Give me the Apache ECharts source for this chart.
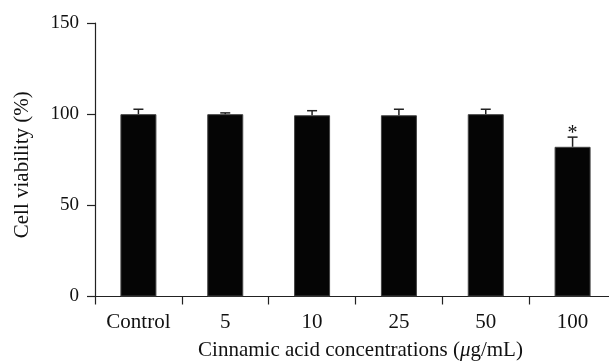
<!DOCTYPE html>
<html>
<head>
<meta charset="utf-8">
<script src="https://cdn.jsdelivr.net/npm/echarts@6/dist/echarts.min.js"></script>
<style>html,body{margin:0;padding:0;background:#fff;overflow:hidden}#c{width:620px;height:362px}</style>
</head>
<body>
<div id="c"></div>
<script>
var categories = ['Control', '5', '10', '25', '50', '100'];
var viability = [100, 100, 99.4, 99.4, 100, 82.1];
var errors = [2.7, 0.7, 2.5, 3.3, 2.7, 5.3];
var significance = ['', '', '', '', '', '*'];
var yTicks = [0, 50, 100, 150];

var FONT = '"Liberation Serif", "DejaVu Serif", serif';
var chart = echarts.init(document.getElementById('c'));
var errData = categories.map(function (c, i) { return [i, viability[i], errors[i], significance[i]]; });

chart.setOption({
  animation: false,
  backgroundColor: '#fff',
  grid: { left: 95, top: 23, width: 521, bottom: 65.5, containLabel: false, outerBoundsMode: 'none' },
  xAxis: {
    type: 'category',
    data: categories,
    axisLine: { lineStyle: { color: '#222', width: 1.2 } },
    axisTick: { show: true, length: 8, lineStyle: { color: '#222', width: 1.2 } },
    axisLabel: { color: '#111', fontFamily: FONT, fontSize: 21, margin: 15 },
    name: 'Cinnamic acid concentrations ({i|μ}g/mL)',
    nameLocation: 'middle',
    nameGap: 43,
    nameTextStyle: {
      color: '#111', fontFamily: FONT, fontSize: 21, padding: [0, 0, 0, 10],
      rich: { i: { fontStyle: 'italic', fontFamily: FONT, fontSize: 21, color: '#111' } }
    }
  },
  yAxis: {
    type: 'value',
    min: yTicks[0],
    max: yTicks[yTicks.length - 1],
    interval: 50,
    splitLine: { show: false },
    axisLine: { show: true, lineStyle: { color: '#222', width: 1.2 } },
    axisTick: { show: true, length: 8, lineStyle: { color: '#222', width: 1.2 } },
    axisLabel: { color: '#111', fontFamily: FONT, fontSize: 19, margin: 16 },
    name: 'Cell viability (%)',
    nameLocation: 'middle',
    nameRotate: 90,
    nameGap: 62,
    nameTextStyle: { color: '#111', fontFamily: FONT, fontSize: 21, padding: [0, 10, 0, 0] }
  },
  series: [
    {
      type: 'bar',
      data: viability,
      barWidth: 36,
      itemStyle: { color: '#050505', borderColor: '#444', borderWidth: 1 }
    },
    {
      type: 'custom',
      data: errData,
      z: 5,
      renderItem: function (params, api) {
        var i = api.value(0), v = api.value(1), e = api.value(2);
        var sig = errData[params.dataIndex][3];
        var base = api.coord([i, v]);
        var top = api.coord([i, v + e]);
        var hw = 5;
        var style = { stroke: '#222', lineWidth: 1.5 };
        var children = [
          { type: 'line', shape: { x1: base[0], y1: base[1], x2: top[0], y2: top[1] }, style: style },
          { type: 'line', shape: { x1: top[0] - hw, y1: top[1], x2: top[0] + hw, y2: top[1] }, style: style }
        ];
        if (sig) {
          children.push({ type: 'text', style: { text: sig, x: top[0], y: top[1] - 3, align: 'center', verticalAlign: 'middle', font: '20px ' + FONT, fill: '#111' } });
        }
        return { type: 'group', children: children };
      }
    }
  ]
});
</script>
</body>
</html>
